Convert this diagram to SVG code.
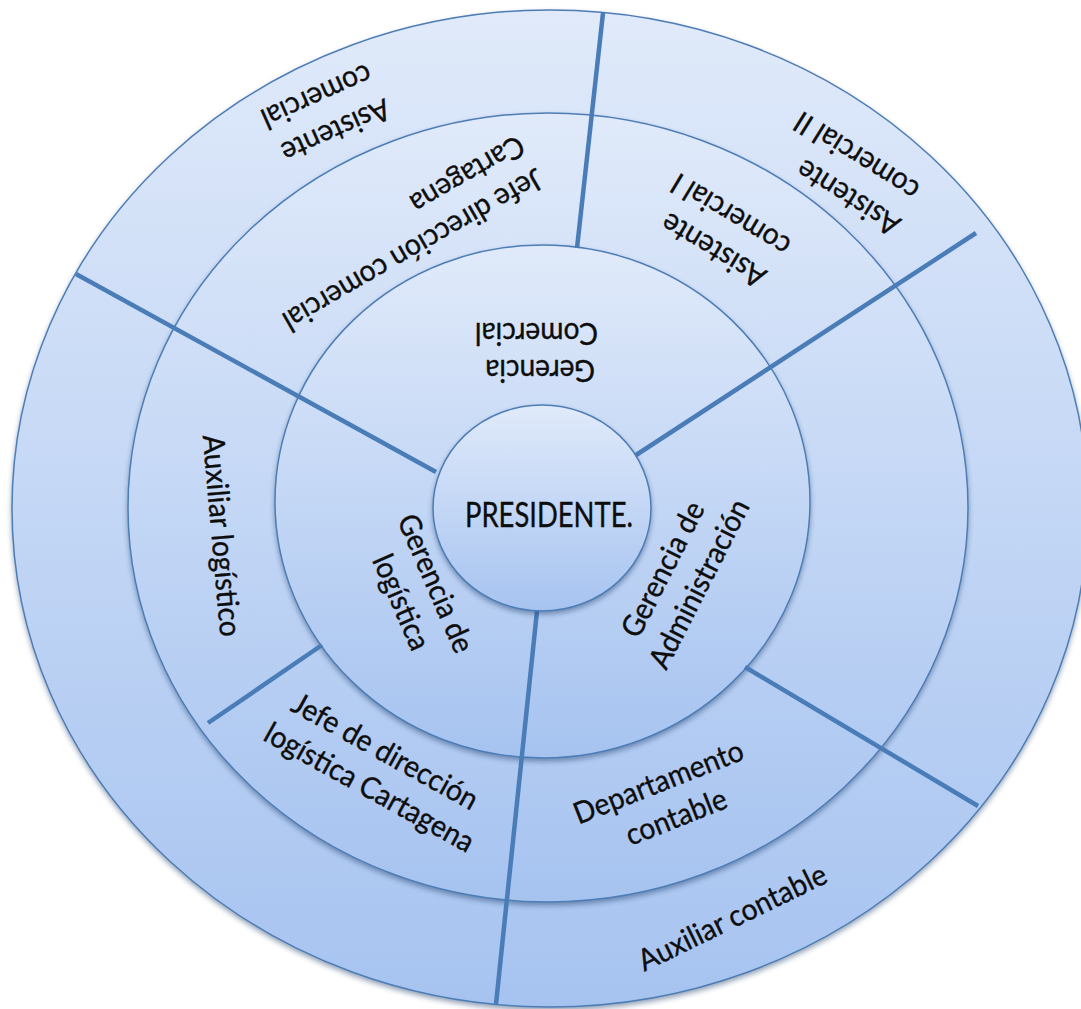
<svg xmlns="http://www.w3.org/2000/svg" width="1081" height="1009" viewBox="0 0 1081 1009">
  <defs>
    <linearGradient id="ringFill" x1="0" y1="0" x2="0" y2="1">
      <stop offset="0" stop-color="#e0eafa"/>
      <stop offset="1" stop-color="#a6c3f0"/>
    </linearGradient>
    <filter id="shade" x="-5%" y="-5%" width="110%" height="112%">
      <feGaussianBlur in="SourceAlpha" stdDeviation="2.5"/>
      <feOffset dy="3" result="blurred"/>
      <feFlood flood-color="#1d3b66" flood-opacity="0.45"/>
      <feComposite in2="blurred" operator="in"/>
      <feMerge>
        <feMergeNode/>
        <feMergeNode in="SourceGraphic"/>
      </feMerge>
    </filter>
  </defs>
  <style>
    .ring { fill: url(#ringFill); stroke: #4e7db5; stroke-width: 1.5; filter: url(#shade); }
    .spoke { stroke: #4a7cb8; stroke-width: 4.5; fill: none; }
    .label { font-family: Lato, "Open Sans", sans-serif; font-size: 30px; fill: #0d0d0d; stroke: #0d0d0d; stroke-width: 0.35; text-anchor: middle; }
  </style>

  <rect width="1081" height="1009" fill="#ffffff"/>

  <!-- concentric levels -->
  <g id="level-3">
    <ellipse class="ring" cx="550" cy="508.5" rx="538" ry="498.5"/>
  </g>
  <g id="level-2">
    <ellipse class="ring" cx="548" cy="507.5" rx="420" ry="394.5"/>
  </g>
  <g id="level-1">
    <ellipse class="ring" cx="542.5" cy="501.5" rx="267.5" ry="256.5"/>
  </g>

  <!-- radial separators -->
  <g id="connectors">
    <line class="spoke" x1="603" y1="13" x2="577" y2="248"/>
    <line class="spoke" x1="976" y1="233" x2="630" y2="459"/>
    <line class="spoke" x1="76" y1="274" x2="436" y2="472"/>
    <line class="spoke" x1="322" y1="645" x2="208" y2="723"/>
    <line class="spoke" x1="537" y1="611" x2="496" y2="1004"/>
    <line class="spoke" x1="745" y1="667" x2="978" y2="806"/>
  </g>

  <!-- centre -->
  <g id="presidente">
    <ellipse class="ring" cx="542" cy="508" rx="109" ry="103"/>
    <text class="label" x="549" y="527" style="font-size:34px" textLength="168" lengthAdjust="spacingAndGlyphs">PRESIDENTE.</text>
  </g>

  <!-- first level -->
  <g id="gerencia-comercial">
    <text class="label" transform="translate(536.5 348.75) rotate(180) scale(0.94 1)">
      <tspan x="0" y="-11.75">Gerencia</tspan>
      <tspan x="0" y="25.75">Comercial</tspan>
    </text>
  </g>
  <g id="gerencia-logistica">
    <text class="label" transform="translate(416.75 595.5) rotate(66.5) scale(0.94 1)">
      <tspan x="0" y="-12">Gerencia de</tspan>
      <tspan x="0" y="27">logística</tspan>
    </text>
  </g>
  <g id="gerencia-administracion">
    <text class="label" transform="translate(684.25 576.25) rotate(-63) scale(0.94 1)">
      <tspan x="0" y="-12">Gerencia de</tspan>
      <tspan x="0" y="27">Administración</tspan>
    </text>
  </g>

  <!-- second level -->
  <g id="jefe-comercial">
    <text class="label" transform="translate(408.5 249.5) rotate(150) scale(0.94 1)">
      <tspan x="0" y="7.5">Jefe dirección comercial</tspan>
      <tspan x="-94" y="45.5">Cartagena</tspan>
    </text>
  </g>
  <g id="asistente-comercial-1">
    <text class="label" transform="translate(721.75 229.5) rotate(-149) scale(0.94 1)">
      <tspan x="0" y="-12">Asistente</tspan>
      <tspan x="0" y="27">comercial I</tspan>
    </text>
  </g>
  <g id="auxiliar-logistico">
    <text class="label" transform="translate(219 536) rotate(85) scale(0.94 1)">
      <tspan x="0" y="7.5">Auxiliar logístico</tspan>
    </text>
  </g>
  <g id="jefe-logistica">
    <text class="label" transform="translate(377.5 772.75) rotate(29) scale(0.94 1)">
      <tspan x="0" y="-12">Jefe de dirección</tspan>
      <tspan x="0" y="27">logística Cartagena</tspan>
    </text>
  </g>
  <g id="departamento-contable">
    <text class="label" transform="translate(670 801.5) rotate(-21.5) scale(0.94 1)">
      <tspan x="0" y="-12">Departamento</tspan>
      <tspan x="0" y="27">contable</tspan>
    </text>
  </g>

  <!-- third level -->
  <g id="asistente-comercial">
    <text class="label" transform="translate(323.5 112) rotate(156) scale(0.94 1)">
      <tspan x="0" y="-12">Asistente</tspan>
      <tspan x="0" y="27">comercial</tspan>
    </text>
  </g>
  <g id="asistente-comercial-2">
    <text class="label" transform="translate(846.5 193.5) rotate(-148) scale(0.94 1)">
      <tspan x="0" y="7.5">Asistente</tspan>
      <tspan x="12" y="47">comercial II</tspan>
    </text>
  </g>
  <g id="auxiliar-contable">
    <text class="label" transform="translate(733.5 920) rotate(-26) scale(0.94 1)">
      <tspan x="0" y="7.5">Auxiliar contable</tspan>
    </text>
  </g>
</svg>
